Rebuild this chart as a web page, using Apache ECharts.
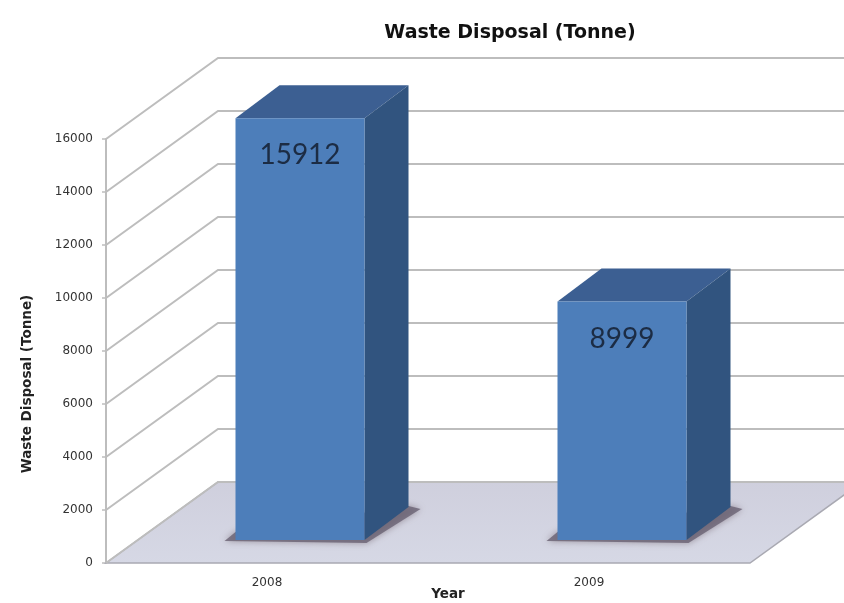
<!DOCTYPE html>
<html>
<head>
<meta charset="utf-8">
<style>html,body{margin:0;padding:0;background:#fff}#c{width:844px;height:603px}</style>
<script src="https://cdn.jsdelivr.net/npm/echarts@6/dist/echarts.min.js"></script>
</head>
<body>
<div id="c"></div>
<script>
const categories = ['2008', '2009'];
const wasteValues = [15912, 8999];
const gridValues = [0, 2000, 4000, 6000, 8000, 10000, 12000, 14000, 16000];

const FONT = '"DejaVu Sans", sans-serif';
const LABEL_FONT = 'Lato, "Open Sans", sans-serif';
const WALL = [112, -81];      // front-to-back offset of the chart box
const BAR_IN = [33, -23];     // bar front face position inside the box
const BAR_DEPTH = [44, -33];  // bar depth
const BAR_W = 129;
const GRID_COLOR = '#bdbdbd';

const chart = echarts.init(document.getElementById('c'), null, { renderer: 'canvas' });

function poly(points, style, z2) {
  return { type: 'polygon', shape: { points }, style, z2: z2 || 0 };
}

chart.setOption({
  animation: false,
  backgroundColor: '#ffffff',
  title: {
    text: 'Waste Disposal (Tonne)', left: 505, top: 19, textAlign: 'center',
    textStyle: { fontFamily: FONT, fontSize: 19, fontWeight: 'bold', color: '#111' }
  },
  grid: { left: 106, right: 94, top: 139, bottom: 40, outerBoundsMode: 'none', containLabel: false },
  xAxis: {
    type: 'category', data: categories,
    name: 'Year', nameLocation: 'middle', nameGap: 24, nameMoveOverlap: false,
    nameTextStyle: { fontFamily: FONT, fontSize: 13.5, fontWeight: 'bold', color: '#222', padding: [0, 0, 0, 40] },
    axisLine: { show: false }, axisTick: { show: false },
    axisLabel: { margin: 14, fontFamily: FONT, fontSize: 12, color: '#333' }
  },
  yAxis: {
    type: 'value', min: 0, max: 16000, interval: 2000,
    name: 'Waste Disposal (Tonne)', nameLocation: 'middle', nameGap: 72, nameRotate: 90, nameMoveOverlap: false,
    nameTextStyle: { fontFamily: FONT, fontSize: 13.5, fontWeight: 'bold', color: '#222', padding: [0, 66, 0, 0] },
    axisLine: { show: true, lineStyle: { color: GRID_COLOR, width: 2 } },
    axisTick: { show: true, length: 4, lineStyle: { color: GRID_COLOR, width: 1.5 } },
    axisLabel: { margin: 13, fontFamily: FONT, fontSize: 12, color: '#333', formatter: (v) => String(v) },
    splitLine: { show: false }
  },
  series: [
    { // floor
      type: 'custom', z: 1, silent: true, data: [[0, 0]],
      encode: { x: 0, y: 1 },
      renderItem(params, api) {
        const s = params.coordSys;
        const y0 = api.coord([0, api.value(1)])[1];
        const l = s.x, r = s.x + s.width;
        return poly([[l, y0], [l + WALL[0], y0 + WALL[1]], [r + WALL[0], y0 + WALL[1]], [r, y0]],
          { fill: new echarts.graphic.LinearGradient(0, 0, 0, 1, [
              { offset: 0, color: '#cfcfdd' }, { offset: 1, color: '#d6d8e5' }]),
            stroke: '#a9a9b2', lineWidth: 1.5 });
      }
    },
    { // wall grid lines
      type: 'custom', z: 2, silent: true, data: gridValues.map(v => [0, v]),
      encode: { x: 0, y: 1 },
      renderItem(params, api) {
        const s = params.coordSys;
        const y = api.coord([0, api.value(1)])[1];
        const l = s.x, r = s.x + s.width;
        return {
          type: 'polyline',
          shape: { points: [[l, y], [l + WALL[0], y + WALL[1]], [r + WALL[0], y + WALL[1]]] },
          style: { stroke: GRID_COLOR, lineWidth: 2, fill: null }
        };
      }
    },
    { // 3D bars
      type: 'custom', z: 3, data: wasteValues.map((v, i) => [i, v]),
      encode: { x: 0, y: 1 },
      renderItem(params, api) {
        const c = api.coord([api.value(0), api.value(1)]);
        const base = api.coord([api.value(0), 0]);
        const xl = c[0] + BAR_IN[0] - BAR_W / 2, xr = xl + BAR_W;
        const yt = c[1] + BAR_IN[1], yb = base[1] + BAR_IN[1];
        const dx = BAR_DEPTH[0], dy = BAR_DEPTH[1];
        return {
          type: 'group',
          children: [
            poly([[xl - 11, yb + 1], [xl, yb - 8], [xr + dx, yb + dy - 1], [xr + dx + 12, yb + dy + 2], [xr + 2, yb + 3]],
              { fill: 'rgba(105,98,115,0.8)', shadowBlur: 7, shadowColor: 'rgba(100,85,95,0.65)' }),
            poly([[xl, yt], [xl + dx, yt + dy], [xr + dx, yt + dy], [xr, yt]], { fill: '#3c5f92' }),
            poly([[xr, yt], [xr + dx, yt + dy], [xr + dx, yb + dy], [xr, yb]], { fill: '#31547f' }),
            { type: 'rect', shape: { x: xl, y: yt, width: BAR_W, height: yb - yt }, style: { fill: '#4d7eba' } },
            { type: 'text', x: (xl + xr) / 2, y: yt + 37,
              style: { text: String(api.value(1)), fontFamily: LABEL_FONT, fontSize: 28, fill: '#1c2c44',
                       align: 'center', verticalAlign: 'middle' } }
          ]
        };
      }
    }
  ]
});
</script>
</body>
</html>
